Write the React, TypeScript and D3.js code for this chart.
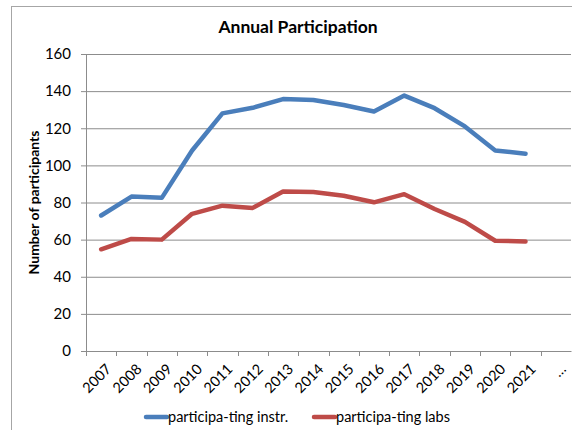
import React, { useEffect, useRef } from 'react';
import * as d3 from 'd3';

const categories = ['2007', '2008', '2009', '2010', '2011', '2012', '2013', '2014', '2015', '2016', '2017', '2018', '2019', '2020', '2021', '…'];
const instrValues = [73, 83.2, 82.5, 108, 128, 131, 135.7, 135.2, 132.5, 129, 137.6, 130.8, 121, 108, 106.3];
const labsValues = [54.8, 60.4, 60, 73.9, 78.3, 77.1, 85.9, 85.6, 83.6, 80.1, 84.5, 76.5, 69.6, 59.4, 59];
const yTicks = [0, 20, 40, 60, 80, 100, 120, 140, 160];

const seriesList = [
  { name: 'participa-ting instr.', values: instrValues, color: '#4A7EBB' },
  { name: 'participa-ting labs', values: labsValues, color: '#BE4B48' },
];

const FONT = 'Lato, "Open Sans", sans-serif';

export default function App() {
  const svgRef = useRef<SVGSVGElement>(null);

  useEffect(() => {
    const svg = d3.select(svgRef.current);
    svg.selectAll('*').remove();

    const width = 572;
    const height = 430;
    const margin = { top: 54, right: 1, bottom: 79, left: 86 };
    const innerW = width - margin.left - margin.right;
    const innerH = height - margin.top - margin.bottom;

    // outer frame
    svg
      .append('rect')
      .attr('x', 11.5)
      .attr('y', 6.5)
      .attr('width', 600)
      .attr('height', 460)
      .attr('fill', 'white')
      .attr('stroke', '#A6A6A6');

    svg
      .append('text')
      .attr('x', 298)
      .attr('y', 33)
      .attr('text-anchor', 'middle')
      .style('font-family', FONT)
      .style('font-size', '17.5px')
      .style('font-weight', 'bold')
      .text('Annual Participation');

    const xScale = d3.scaleBand().domain(categories).range([0, innerW]);
    const yScale = d3.scaleLinear().domain([0, 160]).range([innerH, 0]);

    const g = svg.append('g').attr('transform', `translate(${margin.left}, ${margin.top})`);

    // y axis with gridlines
    const yAxis = g
      .append('g')
      .call(d3.axisLeft(yScale).tickValues(yTicks).tickSize(0).tickPadding(15));
    yAxis.select('.domain').remove();
    yAxis
      .selectAll('.tick text')
      .style('font-family', FONT)
      .style('font-size', '15px')
      .attr('fill', '#000');
    yAxis
      .selectAll('.tick')
      .append('line')
      .attr('x1', -5)
      .attr('x2', innerW)
      .attr('stroke', '#8C8C8C')
      .attr('stroke-width', 1);

    g.append('line')
      .attr('x1', 0.5)
      .attr('x2', 0.5)
      .attr('y1', 0)
      .attr('y2', innerH)
      .attr('stroke', '#8C8C8C');

    // x axis
    const xAxis = g
      .append('g')
      .attr('transform', `translate(0, ${innerH})`)
      .call(d3.axisBottom(xScale).tickSize(0).tickFormat(() => ''));
    xAxis.select('.domain').attr('stroke', '#8C8C8C');
    xAxis.selectAll('.tick').remove();

    const edges = categories.map((c) => xScale(c)!);
    xAxis
      .selectAll('line.xt')
      .data(edges)
      .join('line')
      .attr('class', 'xt')
      .attr('x1', (d) => Math.round(d) + 0.5)
      .attr('x2', (d) => Math.round(d) + 0.5)
      .attr('y1', 0)
      .attr('y2', 5)
      .attr('stroke', '#8C8C8C');

    xAxis
      .selectAll('text.xl')
      .data(categories)
      .join('text')
      .attr('class', 'xl')
      .attr('text-anchor', 'end')
      .attr('fill', '#000')
      .attr('transform', (d) => {
        const x = xScale(d)! + xScale.bandwidth() / 2 + 5;
        return `translate(${x}, 13) rotate(-45)`;
      })
      .attr('dy', '0.6em')
      .style('font-family', FONT)
      .style('font-size', '14.5px')
      .text((d) => d);

    // lines
    const line = d3
      .line<number>()
      .x((_, i) => xScale(categories[i])! + xScale.bandwidth() / 2)
      .y((d) => yScale(d));

    seriesList.forEach((s) => {
      g.append('path')
        .datum(s.values)
        .attr('fill', 'none')
        .attr('stroke', s.color)
        .attr('stroke-width', 4.5)
        .attr('stroke-linejoin', 'round')
        .attr('stroke-linecap', 'round')
        .attr('d', line);
    });

    // y axis title
    svg
      .append('text')
      .attr('transform', `translate(39, ${margin.top + innerH / 2}) rotate(-90)`)
      .attr('text-anchor', 'middle')
      .style('font-family', FONT)
      .style('font-size', '14px')
      .style('font-weight', 'bold')
      .text('Number of participants');

    // legend
    const legendX = [145, 313];
    seriesList.forEach((s, i) => {
      const lg = svg.append('g').attr('transform', `translate(${legendX[i]}, 417)`);
      lg.append('line')
        .attr('x1', 1)
        .attr('x2', 22)
        .attr('stroke', s.color)
        .attr('stroke-width', 4.5)
        .attr('stroke-linecap', 'round');
      lg.append('text')
        .attr('x', 23)
        .attr('dy', '0.35em')
        .style('font-family', FONT)
        .style('font-size', '14.5px')
        .text(s.name);
    });
  }, []);

  return (
    <svg
      ref={svgRef}
      width={572}
      height={430}
      style={{ position: 'absolute', left: 0, top: 0, background: 'white' }}
    />
  );
}
